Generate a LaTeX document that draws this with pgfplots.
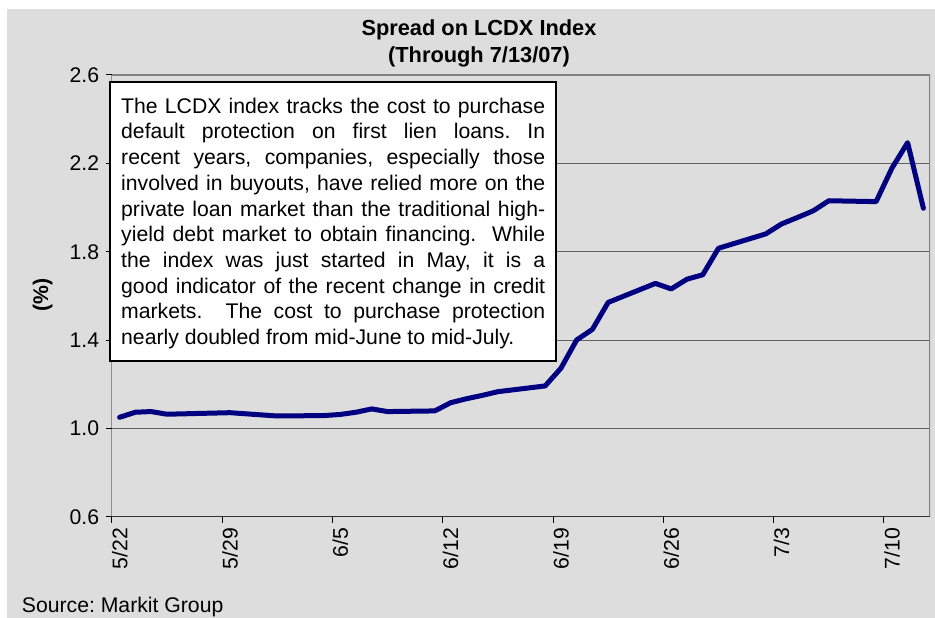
\documentclass[border=0pt]{standalone}
\usepackage{fontspec}
\setmainfont{Liberation Sans}
\usepackage{pgfplots}
\pgfplotsset{compat=1.18}
\definecolor{bg}{HTML}{DDDDDD}
\definecolor{navyline}{HTML}{000080}
\newcommand{\chartfont}{\fontsize{21.2}{25.7}\selectfont}
\newcommand{\titlefont}{\fontsize{21.8}{25.7}\selectfont}
\frenchspacing
\begin{document}
\begin{tikzpicture}[x=1pt,y=1pt]
\useasboundingbox (0,0) rectangle (935,618);
\fill[white] (0,0) rectangle (935,618);
\fill[bg] (7,0) rectangle (935,609);
\begin{axis}[
  at={(111.7pt,101pt)}, anchor=south west,
  scale only axis, width=818.3pt, height=442pt,
  xmin=0, xmax=51.92, ymin=0.6, ymax=2.6,
  axis line style={draw=none},
  xtick={0,7,14,21,28,35,42,49},
  xticklabels={5/22,5/29,6/5,6/12,6/19,6/26,7/3,7/10},
  ytick={0.6,1.0,1.4,1.8,2.2,2.6},
  yticklabels={0.6,1.0,1.4,1.8,2.2,2.6},
  xtick pos=left, ytick pos=left,
  tick align=outside,
  major tick length=6pt,
  tick style={black, line width=1pt},
  ymajorgrids, grid style={black!62, line width=1pt},
  ticklabel style={font=\chartfont},
  xticklabel style={rotate=90, anchor=north east, inner ysep=0pt, xshift=-1.5pt},
  yticklabel style={xshift=-3pt},
]
\addplot[navyline, line width=5pt, line join=round, line cap=round] coordinates {
(0.5,1.051) (1.5,1.074) (2.5,1.077) (3.5,1.065)
(7.5,1.072) (8.5,1.067) (9.5,1.062) (10.5,1.057)
(13.5,1.059) (14.5,1.064) (15.5,1.074) (16.5,1.089) (17.5,1.077)
(20.5,1.080) (21.5,1.117) (22.5,1.135) (23.5,1.150) (24.5,1.167)
(27.5,1.193) (28.5,1.273) (29.5,1.401) (30.5,1.449) (31.5,1.571)
(34.5,1.657) (35.5,1.632) (36.5,1.676) (37.5,1.696) (38.5,1.816)
(41.5,1.881) (42.5,1.926) (43.5,1.955) (44.5,1.985) (45.5,2.031)
(48.5,2.027) (49.5,2.178) (50.5,2.294) (51.5,1.997)
};
\draw[black!50, line width=2pt] (rel axis cs:0,1) -- (rel axis cs:1,1) -- (rel axis cs:1,0);
\draw[black!80, line width=1.8pt] (rel axis cs:0,0) -- (rel axis cs:1,0);
\draw[black, line width=1.3pt] (rel axis cs:0,1) -- (rel axis cs:0,0);
\end{axis}
\node[font=\bfseries\titlefont, anchor=base] at (479,582) {Spread on LCDX Index};
\node[font=\bfseries\titlefont, anchor=base] at (479,555) {(Through 7/13/07)};
\node[font=\bfseries\chartfont, rotate=90] at (42.6,323.4) {(\%)};
\node[font=\chartfont, anchor=base west, inner sep=0pt] at (21.7,5) {Source: Markit Group};
\draw[fill=white, line width=1.8pt] (110,257) rectangle (556,536);
\begin{scope}[every node/.style={font=\chartfont, anchor=base west, inner sep=0pt}]
\node at (121,504.7) {\makebox[424pt][s]{The LCDX index tracks the cost to purchase}};
\node at (121,479.0) {\makebox[424pt][s]{default protection on first lien loans. In}};
\node at (121,453.3) {\makebox[424pt][s]{recent years, companies, especially those}};
\node at (121,427.6) {\makebox[424pt][s]{involved in buyouts, have relied more on the}};
\node at (121,401.9) {\makebox[424pt][s]{private loan market than the traditional high-}};
\node at (121,376.2) {\makebox[424pt][s]{yield debt market to obtain financing.\ \ While}};
\node at (121,350.5) {\makebox[424pt][s]{the index was just started in May, it is a}};
\node at (121,324.8) {\makebox[424pt][s]{good indicator of the recent change in credit}};
\node at (121,299.1) {\makebox[424pt][s]{markets.\ \ The cost to purchase protection}};
\node at (121,273.4) {nearly doubled from mid-June to mid-July.};
\end{scope}
\end{tikzpicture}
\end{document}
